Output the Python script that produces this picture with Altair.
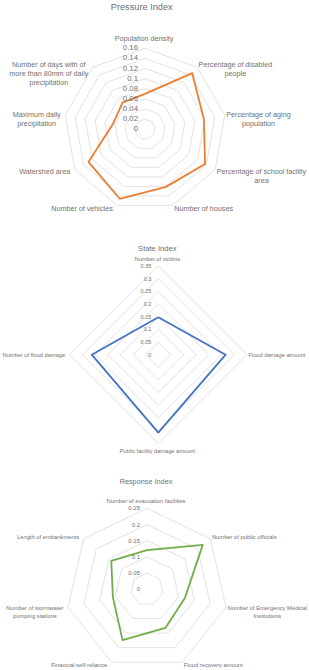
import math
import altair as alt
import pandas as pd

# ---------------- data ----------------
pressure_cats = [
    "Population density",
    "Percentage of disabled\npeople",
    "Percentage of aging\npopulation",
    "Percentage of school facility\narea",
    "Number of houses",
    "Number of vehicles",
    "Watershed area",
    "Maximum daily\nprecipitation",
    "Number of days with of\nmore than 80mm of daily\nprecipitation",
]
pressure_vals = [0.070, 0.145, 0.118, 0.137, 0.121, 0.146, 0.129, 0.064, 0.069]
pressure_ticks = ["0", "0.02", "0.04", "0.06", "0.08", "0.1", "0.12", "0.14", "0.16"]

state_cats = [
    "Number of victims",
    "Flood damage amount",
    "Public facility damage amount",
    "Number of flood damage",
]
state_vals = [0.148, 0.266, 0.308, 0.263]
state_ticks = ["0", "0.05", "0.1", "0.15", "0.2", "0.25", "0.3", "0.35"]

response_cats = [
    "Number of evacuation facilities",
    "Number of public officials",
    "Number of Emergency Medical\nInstitutions",
    "Flood recovery amount",
    "Financial self-reliance",
    "Number of stormwater\npumping stations",
    "Length of embankments",
]
response_vals = [0.121, 0.220, 0.120, 0.132, 0.174, 0.108, 0.141]
response_ticks = ["0", "0.05", "0.1", "0.15", "0.2", "0.25"]

# ---------------- styling / layout ----------------
W = 309
FONT = "Liberation Sans"
TXT = "#707070"
GRID = "#e2e2e2"

# Arial / Liberation Sans advance widths (per 1000 em) for label block centring
AW = {" ": 278, "-": 333, ".": 278, "(": 333, ")": 333}
AW.update({d: 556 for d in "0123456789"})
AW.update(dict(zip("ABCDEFGHIJKLMNOPQRSTUVWXYZ",
                   [667, 667, 722, 722, 667, 611, 778, 722, 278, 500, 667, 556, 833,
                    722, 778, 667, 778, 722, 667, 611, 722, 667, 944, 667, 667, 611])))
AW.update(dict(zip("abcdefghijklmnopqrstuvwxyz",
                   [556, 556, 500, 556, 556, 278, 556, 556, 222, 222, 500, 222, 833,
                    556, 556, 556, 556, 333, 500, 278, 556, 500, 722, 500, 500, 500])))


def text_width(s, fs):
    return sum(AW.get(ch, 556) for ch in s) * fs / 1000.0


def radar(cats, vals, ticks, color, title, H, cx, cy, R,
          fs_lab, fs_tick, fs_title, title_dx, title_y):
    n = len(cats)
    vmax = float(ticks[-1])
    xs = alt.Scale(domain=[-cx / R, (W - cx) / R], nice=False, zero=False)
    ys = alt.Scale(domain=[-(H - cy) / R, cy / R], nice=False, zero=False)
    X = lambda f: alt.X(f, type="quantitative", scale=xs, axis=None)
    Y = lambda f: alt.Y(f, type="quantitative", scale=ys, axis=None)
    ang = f"2*PI*datum.i/{n}"

    # grid rings
    levels = [float(t) for t in ticks[1:]]
    ring = pd.DataFrame([{"lvl": lv, "i": i} for lv in levels for i in range(n + 1)])
    rings = alt.Chart(ring).transform_calculate(
        x=f"datum.lvl/{vmax}*sin({ang})", y=f"datum.lvl/{vmax}*cos({ang})"
    ).mark_line(stroke=GRID, strokeWidth=1).encode(
        x=X("x"), y=Y("y"), detail="lvl:N", order="i:Q")

    # data polygon
    poly = pd.DataFrame({"i": list(range(n + 1)), "v": list(vals) + [vals[0]]})
    line = alt.Chart(poly).transform_calculate(
        x=f"datum.v/{vmax}*sin({ang})", y=f"datum.v/{vmax}*cos({ang})"
    ).mark_line(color=color, strokeWidth=1.8, strokeJoin="round").encode(
        x=X("x"), y=Y("y"), order="i:Q")

    # tick labels along the first axis
    tdf = pd.DataFrame({"t": ticks, "r": [float(t) / vmax for t in ticks]})
    tlab = alt.Chart(tdf).transform_calculate(x="0").mark_text(
        align="right", baseline="middle", dx=-7, fontSize=fs_tick, font=FONT, color=TXT
    ).encode(x=X("x:Q"), y=Y("r"), text="t:N")

    # category labels
    rows = []
    for k, c in enumerate(cats):
        th = 2 * math.pi * k / n
        s, co = math.sin(th), math.cos(th)
        wmax = max(text_width(l, fs_lab) for l in c.split("\n"))
        vx, vy = R * s, -R * co  # screen offsets of outer vertex from centre
        if abs(s) < 0.05:
            ox, oy = -1.0, (-1.3 * fs_lab if co > 0 else 1.3 * fs_lab)
        elif s > 0:
            ox, oy = 1.5 + wmax / 2, -co * 3.5
        else:
            ox, oy = -4.5 - wmax / 2, -co * 3.5
        rows.append({"lab": c, "x": (vx + ox) / R, "y": -(vy + oy) / R})
    ldf = pd.DataFrame(rows)
    clab = alt.Chart(ldf).mark_text(
        align="center", baseline="middle", lineBreak="\n", fontSize=fs_lab,
        lineHeight=fs_lab * 1.3, font=FONT, color=TXT
    ).encode(x=X("x"), y=Y("y"), text="lab:N")

    # title
    ttl = alt.Chart(pd.DataFrame({"t": [title]})).mark_text(
        align="center", baseline="middle", fontSize=fs_title, font=FONT, color=TXT
    ).encode(x=alt.value(cx + title_dx), y=alt.value(title_y), text="t:N")

    return alt.layer(rings, line, tlab, clab, ttl).properties(width=W, height=H)


p1 = radar(pressure_cats, pressure_vals, pressure_ticks, "#ED7D31", "Pressure Index",
           H=225, cx=145, cy=129.3, R=81, fs_lab=7.2, fs_tick=7.8, fs_title=9.2,
           title_dx=-3.3, title_y=7.3)
p2 = radar(state_cats, state_vals, state_ticks, "#4472C4", "State Index",
           H=225, cx=158.3, cy=129.7, R=88.6, fs_lab=5.7, fs_tick=5.5, fs_title=7.6,
           title_dx=-1, title_y=24)
p3 = radar(response_cats, response_vals, response_ticks, "#70AD47", "Response Index",
           H=220, cx=147, cy=139.3, R=81, fs_lab=5.8, fs_tick=6.0, fs_title=7.3,
           title_dx=-1, title_y=32)

chart = alt.vconcat(p1, p2, p3, spacing=0, bounds="flush").properties(
    padding=0, background="white"
).configure_view(stroke=None)

chart.save("out.html", embed_options={"renderer": "svg", "actions": False})
